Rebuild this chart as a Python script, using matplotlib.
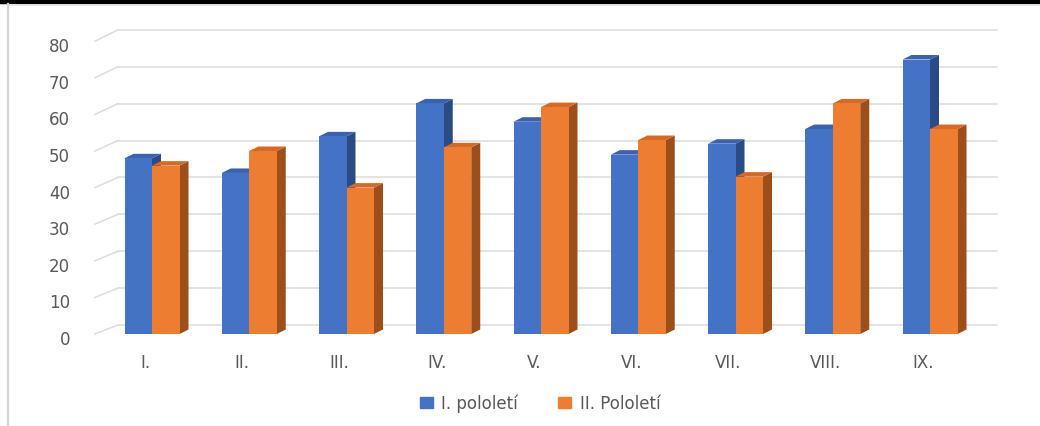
import numpy as np
import matplotlib
matplotlib.use('Agg')
import matplotlib.pyplot as plt
import matplotlib.transforms as mtransforms
from matplotlib.patches import Polygon, Patch
from matplotlib.lines import Line2D

categories = ['I.', 'II.', 'III.', 'IV.', 'V.', 'VI.', 'VII.', 'VIII.', 'IX.']
first_half = [48, 44, 54, 63, 58, 49, 52, 56, 75]
second_half = [46, 50, 40, 51, 62, 53, 43, 63, 56]
series_names = ['I. pololetí', 'II. Pololetí']
y_ticks = [0, 10, 20, 30, 40, 50, 60, 70, 80]

W, H = 1040, 427
fig = plt.figure(figsize=(W / 100, H / 100), dpi=100)

# pixel layout of the front plane
px_per_cat = 97.25
px_per_val = 3.66
left_px, right_px, zero_px = 95, 997, 335
first_center_px = 152
ymax = 88

ax = fig.add_axes([left_px / W, (H - zero_px) / H,
                   (right_px - left_px) / W, ymax * px_per_val / H])
xmin = (left_px - first_center_px) / px_per_cat
xmax = (right_px - first_center_px) / px_per_cat
ax.set_xlim(xmin, xmax)
ax.set_ylim(0, ymax)
for s in ax.spines.values():
    s.set_visible(False)

grid_col = '#dcdcdc'
text_col = '#595959'

# back wall (slightly offset up/right from the front plane)
back_dx = 23 / px_per_cat


def back_y(v):
    return (zero_px - 326 + 3.69 * v) / px_per_val


for v in y_ticks:
    ax.plot([xmin + back_dx, xmax], [back_y(v), back_y(v)], color=grid_col, lw=1.1,
            zorder=1, clip_on=False)
    ax.plot([xmin, xmin + back_dx], [v, back_y(v)], color=grid_col, lw=1.1,
            zorder=1, clip_on=False)

# bars with a small 3d depth
bar_w = 27.5 / px_per_cat
depth_dx = 9 / px_per_cat
depth_dy = 4.5 / px_per_val
x = np.arange(len(categories))

styles = [
    ('#4472C4', '#3a62ad', '#2b4b86'),
    ('#ED7D31', '#d66a25', '#9c4e1b'),
]


def draw_bars(xs, vals, cols, z):
    front, top, side = cols
    ax.bar(xs, vals, width=bar_w, align='edge', color=front, lw=0, zorder=z + 0.2)
    for xl, h in zip(xs, vals):
        xr = xl + bar_w
        ax.add_patch(Polygon([(xr, 0), (xr + depth_dx, depth_dy), (xr + depth_dx, h + depth_dy), (xr, h)],
                             closed=True, color=side, lw=0, zorder=z + 0.1))
        ax.add_patch(Polygon([(xl, h), (xl + depth_dx, h + depth_dy), (xr + depth_dx, h + depth_dy), (xr, h)],
                             closed=True, color=top, lw=0, zorder=z + 0.1))


draw_bars(x - bar_w, first_half, styles[0], 2)
draw_bars(x, second_half, styles[1], 3)

ax.set_xticks(x - 7 / px_per_cat)
ax.set_xticklabels(categories)
ax.set_yticks(y_ticks)
ax.tick_params(axis='both', length=0, labelsize=12, labelcolor=text_col)
ax.tick_params(axis='x', pad=14)
ax.tick_params(axis='y', pad=18)
# y labels sit a little below the front tick ends
shift = mtransforms.ScaledTranslation(0, -3 / 100, fig.dpi_scale_trans)
for lab in ax.get_yticklabels():
    lab.set_transform(lab.get_transform() + shift)
for lab in ax.get_xticklabels() + ax.get_yticklabels():
    lab.set_fontfamily('DejaVu Sans')

handles = [Patch(color=styles[0][0]), Patch(color=styles[1][0])]
fig.legend(handles, series_names, loc='center', bbox_to_anchor=(540 / W, (H - 404) / H),
           ncol=2, frameon=False, fontsize=12, labelcolor=text_col,
           handlelength=0.8, handleheight=0.65, handletextpad=0.5, columnspacing=2.4)

# page frame from the document the chart was cut from
fig.add_artist(Line2D([0, 1], [1 - 2.5 / H] * 2, color='black', lw=3.2))
fig.add_artist(Line2D([8 / W, 1], [1 - 5.5 / H] * 2, color='#e3e3e3', lw=1.2))
fig.add_artist(Line2D([8 / W] * 2, [0, 1 - 5 / H], color='#d4d4d4', lw=1.6))

fig.savefig('out.png', dpi=100)
